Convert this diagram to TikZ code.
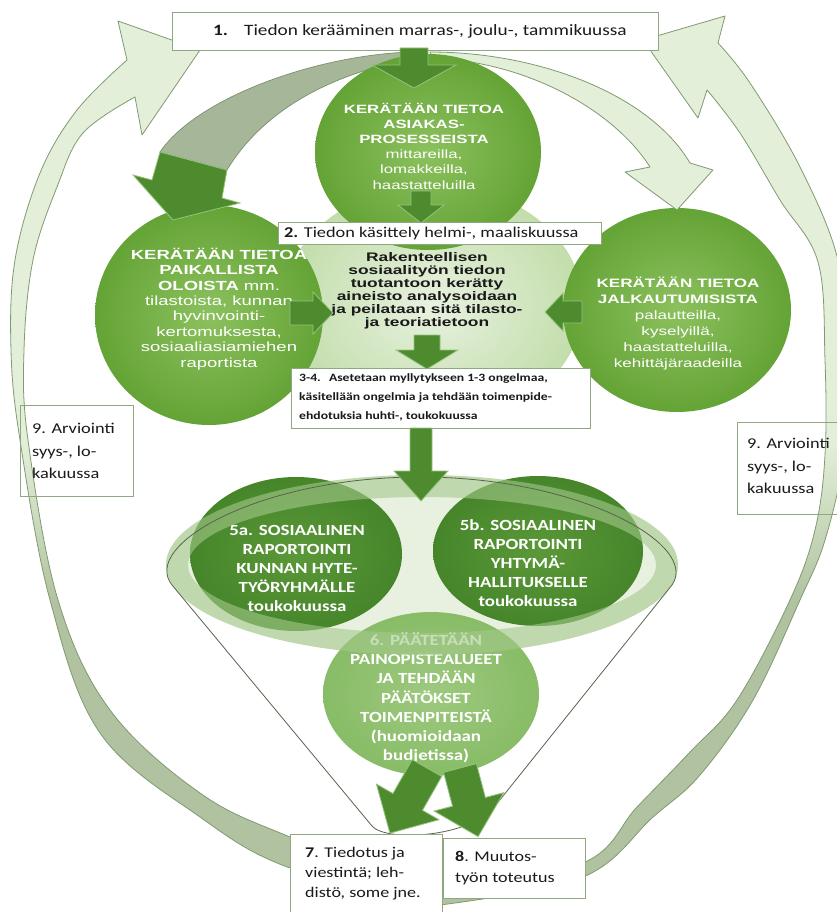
\documentclass[tikz,border=0pt]{standalone}
\usepackage{fontspec}
\newfontfamily\calfont[FakeStretch=1.22]{Carlito}
\newfontfamily\arifont[FakeStretch=1.4]{Liberation Sans}
\usetikzlibrary{shapes.geometric}
\definecolor{arclight}{HTML}{E3EFD8}
\definecolor{arcgray}{HTML}{B0C2A0}
\definecolor{arcline}{HTML}{809A72}
\definecolor{boxline}{HTML}{90A882}
\definecolor{darkarr}{HTML}{4E8B2F}
\definecolor{darkarrline}{HTML}{96C47F}
\definecolor{grayarc}{HTML}{A6B698}
\definecolor{grayarcline}{HTML}{7D8F70}
\definecolor{midgreen}{HTML}{64A336}
\definecolor{midgreenin}{HTML}{8CC15E}
\definecolor{lightcirc}{HTML}{C3DDAB}
\definecolor{lightcircin}{HTML}{E8F2E0}
\definecolor{dkgreen}{HTML}{46852A}
\definecolor{dkgreenin}{HTML}{5A9838}
\definecolor{sixgreen}{HTML}{88BC66}
\definecolor{sixgreenin}{HTML}{9DC97F}
\definecolor{rimcol}{HTML}{A4C98B}
\definecolor{riminner}{HTML}{E8F0E0}
\definecolor{funnelline}{HTML}{56654C}
\definecolor{txtdark}{HTML}{1A1A1A}
\pgfdeclareverticalshading{arcshade}{100bp}{color(0bp)=(arcgray); color(42bp)=(arcgray); color(51bp)=(arclight); color(100bp)=(arclight)}
% block arrow: x, y, angle, length, shaft half, head half, head length, style
\newcommand\blockarr[8]{%
  \begin{scope}[shift={(#1,#2)},rotate=#3]
    \filldraw[#8] (0,#5) -- ({#4-#7},#5) -- ({#4-#7},#6) -- (#4,0) -- ({#4-#7},-#6) -- ({#4-#7},-#5) -- (0,-#5) -- cycle;
  \end{scope}}
\begin{document}
\begin{tikzpicture}[x=1pt,y=-1pt,
  boxst/.style={draw=boxline, line width=0.9pt, fill=white},
  darr/.style={fill=darkarr, draw=darkarrline, line width=0.8pt},
  oval/.style={ellipse, inner sep=0pt, draw=none},
  wtxt/.style={text=white, align=center, inner sep=0pt},
  btxt/.style={text=txtdark, align=left, inner sep=0pt}]
\useasboundingbox (0,0) rectangle (837,912);
\fill[white] (0,0) rectangle (837,912);

% outer arcs
\shadedraw[shading=arcshade, draw=arcline, line width=0.8pt, line join=round]
 (200,50) -- (118,21) -- (127,60)
 -- plot[smooth, tension=0.6] coordinates {(127,60) (77,110) (40,173) (15,260) (11,350) (20,440) (50,600) (100,733) (200,817) (290,868) (440,905)}
 -- plot[smooth, tension=0.6] coordinates {(440,893) (290,837) (200,793) (110,710) (58,600) (28,440) (24,350) (33,260) (57,187) (83,133) (135,97)}
 -- (142,135) -- cycle;
\shadedraw[shading=arcshade, draw=arcline, line width=0.8pt, line join=round]
 (643,40) -- (725,16) -- (718,43)
 -- plot[smooth, tension=0.6] coordinates {(718,43) (750,83) (800,167) (838,260) (848,360) (844,455) (825,540) (800,600) (753,700) (700,775) (653,817) (583,877) (440,905)}
 -- plot[smooth, tension=0.6] coordinates {(440,893) (583,863) (637,807) (690,752) (737,700) (790,600) (815,530) (825,455) (825,360) (818,262) (780,200) (740,133) (707,90)}
 -- (698,118) -- cycle;

% evaluation boxes
\node[draw=boxline, line width=0.9pt, minimum width=113pt, minimum height=91pt, anchor=north west, inner sep=0pt] (b9l) at (20,405) {};
\node[btxt, anchor=north west, font=\calfont\fontsize{15}{22.5}\selectfont] (t9l) at (32,423) {9. Arviointi\\syys-, lo-\\kakuussa};
\node[draw=boxline, line width=0.9pt, minimum width=110pt, minimum height=92pt, anchor=north west, inner sep=0pt] (b9r) at (737,422) {};
\node[btxt, anchor=north west, font=\calfont\fontsize{15}{22.5}\selectfont] (t9r) at (747,438) {9. Arviointi\\syys-, lo-\\kakuussa};

% central light circle and side circles
\node[oval, minimum width=300pt, minimum height=240pt, inner color=lightcircin, outer color=lightcirc] (mid) at (433,305) {};
\node[oval, minimum width=228pt, minimum height=220pt, inner color=midgreenin, outer color=midgreen] (leftc) at (209,315) {};
\node[oval, minimum width=228pt, minimum height=204pt, inner color=midgreenin, outer color=midgreen] (rightc) at (677,310) {};

% inner arcs
\filldraw[fill=grayarc, draw=grayarcline, line width=0.7pt] (410,52) .. controls (310,56) and (195,100) .. (160,152) -- (227,170) .. controls (262,112) and (330,72) .. (420,58) -- cycle;
\filldraw[darr] (160,152) -- (227,170) -- (222,198) -- (240,203) -- (173,220) -- (133,175) -- (152,180) -- cycle;
\filldraw[fill=arclight, draw=arcline, line width=0.8pt, line join=round] (430,52) .. controls (540,52) and (650,95) .. (690,163) -- (713,170) -- (677,210) -- (625,172) -- (650,167) .. controls (615,112) and (530,62) .. (432,58) -- cycle;

% top circle
\node[oval, minimum width=226pt, minimum height=196pt, inner color=midgreenin, outer color=midgreen] (topc) at (428,152) {};
\node[wtxt, font=\arifont\fontsize{12}{15.2}\selectfont] (toptxt) at (424,146) {\textbf{KERÄTÄÄN TIETOA}\\\textbf{ASIAKAS-}\\\textbf{PROSESSEISTA}\\mittareilla,\\lomakkeilla,\\haastatteluilla};
\node[wtxt, font=\arifont\fontsize{13.2}{15.4}\selectfont] (lefttxt) at (219,309) {\textbf{KERÄTÄÄN TIETOA}\\\textbf{PAIKALLISTA}\\\textbf{OLOISTA} mm.\\tilastoista, kunnan\\hyvinvointi-\\kertomuksesta,\\sosiaaliasiamiehen\\raportista};
\node[wtxt, font=\arifont\fontsize{12.2}{16}\selectfont] (righttxt) at (678,324) {\textbf{KERÄTÄÄN TIETOA}\\\textbf{JALKAUTUMISISTA}\\palautteilla,\\kyselyillä,\\haastatteluilla,\\kehittäjäraadeilla};

% top box
\node[boxst, minimum width=486pt, minimum height=38pt, anchor=north west, inner sep=0pt] (b1) at (172,12) {};
\node[btxt, anchor=west, font=\calfont\fontsize{15.8}{18}\selectfont] (t1) at (213,31) {\textbf{1.}\hspace{16pt}Tiedon kerääminen marras-, joulu-, tammikuussa};

\blockarr{414}{48}{-90}{40}{14}{42}{23}{darr}
\blockarr{421}{191}{-90}{32}{10}{23}{18}{darr}

% box 2
\node[boxst, minimum width=323pt, minimum height=22pt, anchor=north west, inner sep=0pt] (b2) at (278,222) {};
\node[btxt, anchor=west, font=\calfont\fontsize{15}{16}\selectfont] (t2) at (284,233) {\textbf{2.} Tiedon käsittely helmi-, maaliskuussa};

\node[text=txtdark, align=center, inner sep=0pt, font=\arifont\bfseries\fontsize{12.4}{13}\selectfont] (midtxt) at (427,290.5) {Rakenteellisen\\sosiaalityön tiedon\\tuotantoon kerätty\\aineisto analysoidaan\\ja peilataan sitä tilasto-\\ja teoriatietoon};

\blockarr{290}{313}{0}{43}{12}{21}{20}{darr}
\blockarr{582}{312}{180}{37}{11}{19}{18}{darr}
\blockarr{427}{335}{-90}{34}{13}{31}{19}{darr}

% box 3-4
\node[boxst, minimum width=299pt, minimum height=60pt, anchor=north west, inner sep=0pt] (b34) at (291,368) {};
\node[btxt, anchor=north west, font=\calfont\bfseries\fontsize{11.2}{19}\selectfont] (t34) at (299,373) {3-4.\hspace{4pt} Asetetaan myllytykseen 1-3 ongelmaa,\\käsitellään ongelmia ja tehdään toimenpide-\\ehdotuksia huhti-, toukokuussa};

% funnel
\fill[riminner] (422,565) ellipse [x radius=256, y radius=90];
\node[oval, minimum width=216pt, minimum height=164pt, inner color=sixgreenin, outer color=sixgreen] (six) at (431,694) {};
\node[wtxt, font=\calfont\bfseries\fontsize{15.5}{19.3}\selectfont] (sixtxt) at (426,698) {6. PÄÄTETÄÄN\\PAINOPISTEALUEET\\JA TEHDÄÄN\\PÄÄTÖKSET\\TOIMENPITEISTÄ\\(huomioidaan\\budjetissa)};
\node[oval, minimum width=212pt, minimum height=154pt, inner color=dkgreenin, outer color=dkgreen] (fivea) at (296,554) {};
\node[oval, minimum width=210pt, minimum height=150pt, inner color=dkgreenin, outer color=dkgreen] (fiveb) at (538,551) {};
\fill[rimcol, opacity=0.6, even odd rule] (422,565) ellipse [x radius=256, y radius=90] (422,565) ellipse [x radius=234, y radius=68];
\draw[funnelline, line width=0.8pt, line join=round] (420,477) .. controls (260,477) and (140,545) .. (172,585) -- (372,826) .. controls (385,842) and (470,838) .. (495,806) -- (672,585) .. controls (700,545) and (580,477) .. (420,477);
\node[wtxt, font=\calfont\bfseries\fontsize{15.5}{19}\selectfont] (fiveatxt) at (297,568) {5a. SOSIAALINEN\\RAPORTOINTI\\KUNNAN HYTE-\\TYÖRYHMÄLLE\\toukokuussa};
\node[wtxt, font=\calfont\bfseries\fontsize{15.5}{19}\selectfont] (fivebtxt) at (528,563) {5b. SOSIAALINEN\\RAPORTOINTI\\YHTYMÄ-\\HALLITUKSELLE\\toukokuussa};

\blockarr{421}{428}{-90}{73}{11}{27}{30}{darr}
\blockarr{427}{768}{-119.65}{75}{17}{36}{36}{darr}
\blockarr{460}{768}{-75.2}{71}{17}{36}{36}{darr}

% boxes 7 and 8
\node[boxst, minimum width=152pt, minimum height=90pt, anchor=north west, inner sep=0pt] (b7) at (290,834) {};
\node[btxt, anchor=north west, font=\calfont\fontsize{14.8}{20}\selectfont] (t7) at (305,847) {\textbf{7}. Tiedotus ja\\viestintä; leh-\\distö, some jne.};
\node[boxst, minimum width=142pt, minimum height=60pt, anchor=north west, inner sep=0pt] (b8) at (443,838) {};
\node[btxt, anchor=north west, font=\calfont\fontsize{14.8}{21}\selectfont] (t8) at (455,851) {\textbf{8}. Muutos-\\työn toteutus};
\end{tikzpicture}
\end{document}
